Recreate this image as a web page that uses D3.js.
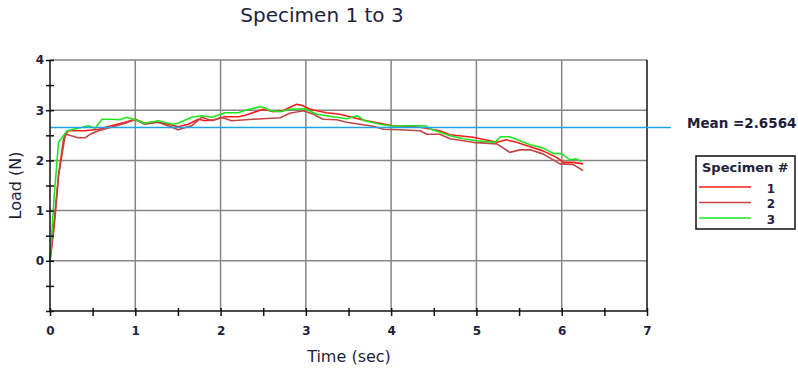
<!DOCTYPE html>
<html>
<head>
<meta charset="utf-8">
<script src="https://cdn.jsdelivr.net/npm/d3@7/dist/d3.min.js"></script>
<style>
	html, body { margin: 0; padding: 0; background: #fff; }
	svg { display: block; font-family: "DejaVu Sans", Verdana, sans-serif; }
</style>
</head>
<body>
<div id="chart"></div>
<script>
// [time (sec), load (N)]
const specimen1 = [
	[0, 0], [0.05, 0.7], [0.1, 1.7], [0.16, 2.43], [0.21, 2.59], [0.41, 2.59],
	[0.57, 2.62], [0.72, 2.69], [0.88, 2.76], [1.0, 2.82], [1.11, 2.74], [1.23, 2.77],
	[1.39, 2.72], [1.5, 2.67], [1.62, 2.72], [1.74, 2.82], [1.82, 2.79], [1.93, 2.81],
	[2.05, 2.87], [2.21, 2.87], [2.29, 2.9], [2.5, 3.02], [2.62, 2.97], [2.73, 2.99],
	[2.89, 3.12], [2.95, 3.1], [3.05, 3.02], [3.24, 2.95], [3.4, 2.92], [3.56, 2.85],
	[3.71, 2.79], [3.87, 2.74], [4.02, 2.69], [4.18, 2.68], [4.34, 2.66], [4.57, 2.59],
	[4.69, 2.51], [4.96, 2.46], [5.16, 2.39], [5.24, 2.36], [5.35, 2.41], [5.47, 2.36],
	[5.63, 2.27], [5.78, 2.19], [5.94, 2.06], [6.02, 1.96], [6.13, 1.96], [6.25, 1.93],
];
const specimen2 = [
	[0, 0], [0.05, 0.8], [0.1, 1.7], [0.18, 2.52], [0.25, 2.49], [0.33, 2.45],
	[0.41, 2.45], [0.47, 2.52], [0.57, 2.59], [0.72, 2.66], [0.88, 2.74], [1.0, 2.81],
	[1.11, 2.72], [1.27, 2.76], [1.43, 2.66], [1.5, 2.61], [1.66, 2.69], [1.78, 2.86],
	[1.9, 2.79], [2.01, 2.86], [2.13, 2.79], [2.38, 2.82], [2.7, 2.85], [2.81, 2.94],
	[2.97, 2.99], [3.09, 2.92], [3.2, 2.82], [3.36, 2.81], [3.48, 2.76], [3.63, 2.72],
	[3.79, 2.68], [3.91, 2.62], [4.1, 2.61], [4.34, 2.59], [4.42, 2.52], [4.57, 2.52],
	[4.69, 2.43], [4.96, 2.36], [5.24, 2.33], [5.39, 2.16], [5.51, 2.21], [5.63, 2.21],
	[5.78, 2.13], [5.98, 1.93], [6.13, 1.92], [6.25, 1.8],
];
const specimen3 = [
	[0, 0], [0.05, 1.3], [0.1, 2.36], [0.2, 2.59], [0.33, 2.64], [0.45, 2.69],
	[0.53, 2.64], [0.61, 2.82], [0.72, 2.82], [0.82, 2.81], [0.9, 2.86], [1.0, 2.81],
	[1.11, 2.74], [1.27, 2.79], [1.43, 2.72], [1.5, 2.74], [1.66, 2.86], [1.78, 2.89],
	[1.9, 2.86], [2.05, 2.95], [2.21, 2.95], [2.29, 3.0], [2.46, 3.07], [2.52, 3.05],
	[2.58, 2.99], [2.7, 2.97], [2.81, 3.02], [2.99, 3.03], [3.13, 2.92], [3.32, 2.87],
	[3.48, 2.83], [3.6, 2.89], [3.69, 2.79], [3.87, 2.72], [4.02, 2.68], [4.18, 2.69],
	[4.4, 2.69], [4.47, 2.62], [4.69, 2.49], [4.85, 2.43], [5.0, 2.39], [5.22, 2.36],
	[5.28, 2.47], [5.39, 2.47], [5.51, 2.39], [5.63, 2.31], [5.78, 2.25], [5.9, 2.14],
	[6.0, 2.13], [6.1, 2.01], [6.17, 2.03], [6.23, 1.98],
];
const specimenLabels = ["1", "2", "3"];
const specimenColors = ["#ff1a1a", "#c04545", "#1ee61e"];
const meanLoad = 2.6564;
const xTickValues = [0, 1, 2, 3, 4, 5, 6, 7];
const yTickValues = [0, 1, 2, 3, 4];

const width = 798;
const height = 369;
const margin = { top: 60, right: 151, bottom: 58, left: 50 };
const textColor = "#1e1e3c";

const series = [specimen1, specimen2, specimen3].map((values, i) => ({
	label: specimenLabels[i],
	color: specimenColors[i],
	values,
}));

const x = d3.scaleLinear().domain([0, 7]).range([margin.left, width - margin.right]);
const y = d3.scaleLinear().domain([-1, 4]).range([height - margin.bottom, margin.top]);

const svg = d3
	.select("#chart")
	.append("svg")
	.attr("width", width)
	.attr("height", height)
	.attr("viewBox", `0 0 ${width} ${height}`);

// grid
svg
	.append("g")
	.selectAll("line")
	.data(xTickValues.filter((v) => v > 0 && v < 7))
	.join("line")
	.attr("x1", (d) => x(d))
	.attr("x2", (d) => x(d))
	.attr("y1", y(4))
	.attr("y2", y(-1))
	.attr("stroke", "#858585")
	.attr("stroke-width", 1.5);

svg
	.append("g")
	.selectAll("line")
	.data(yTickValues)
	.join("line")
	.attr("x1", x(0))
	.attr("x2", x(7))
	.attr("y1", (d) => y(d))
	.attr("y2", (d) => y(d))
	.attr("stroke", "#858585")
	.attr("stroke-width", 1.5);

// right frame edge
svg
	.append("line")
	.attr("x1", x(7))
	.attr("x2", x(7))
	.attr("y1", y(4))
	.attr("y2", y(-1))
	.attr("stroke", "#111")
	.attr("stroke-width", 1.5);

const line = d3
	.line()
	.x((d) => x(d[0]))
	.y((d) => y(d[1]));

svg
	.append("g")
	.selectAll("path")
	.data(series)
	.join("path")
	.attr("fill", "none")
	.attr("stroke", (d) => d.color)
	.attr("stroke-width", 1.6)
	.attr("stroke-linejoin", "round")
	.attr("d", (d) => line(d.values));

// mean line
svg
	.append("line")
	.attr("x1", x(0))
	.attr("x2", x(7) + 24)
	.attr("y1", y(meanLoad))
	.attr("y2", y(meanLoad))
	.attr("stroke", "#1ea3e6")
	.attr("stroke-width", 1.6);

svg
	.append("text")
	.attr("x", 687)
	.attr("y", y(meanLoad) + 0.5)
	.attr("fill", textColor)
	.attr("font-size", 13.5)
	.attr("font-weight", "bold")
	.text(`Mean =${meanLoad}`);

// axes
const xAxis = svg
	.append("g")
	.attr("transform", `translate(0, ${y(-1)})`)
	.call(
		d3
			.axisBottom(x)
			.tickValues(d3.range(0, 7.01, 0.5))
			.tickSize(5)
			.tickPadding(10)
			.tickFormat((d) => (Number.isInteger(d) ? d : "")),
	);
xAxis.select(".domain").attr("stroke", "#111").attr("stroke-width", 1.5).attr("d", `M${x(0)},0H${x(7)}`);
xAxis.selectAll(".tick line").attr("stroke", "#111").attr("stroke-width", 1.5).attr("y1", -3);
xAxis
	.selectAll(".tick text")
	.attr("fill", textColor)
	.attr("font-size", 12)
	.attr("font-weight", "bold")
	.attr("font-family", "DejaVu Sans, sans-serif");

const yAxis = svg
	.append("g")
	.attr("transform", `translate(${x(0)}, 0)`)
	.call(
		d3
			.axisLeft(y)
			.tickValues(d3.range(-1, 4.01, 0.5))
			.tickSize(4)
			.tickPadding(2)
			.tickFormat((d) => (Number.isInteger(d) && d >= 0 ? d : "")),
	);
yAxis.select(".domain").attr("stroke", "#111").attr("stroke-width", 1.5).attr("d", `M0,${y(-1)}V${y(4)}`);
yAxis.selectAll(".tick line").attr("stroke", "#111").attr("stroke-width", 1.5).attr("x2", 4).attr("x1", -4);
yAxis
	.selectAll(".tick text")
	.attr("fill", textColor)
	.attr("font-size", 12)
	.attr("font-weight", "bold")
	.attr("font-family", "DejaVu Sans, sans-serif");

// titles
svg
	.append("text")
	.attr("x", 322)
	.attr("y", 22)
	.attr("text-anchor", "middle")
	.attr("fill", textColor)
	.attr("font-size", 20)
	.text("Specimen 1 to 3");

svg
	.append("text")
	.attr("x", 349)
	.attr("y", 362)
	.attr("text-anchor", "middle")
	.attr("fill", textColor)
	.attr("font-size", 16)
	.text("Time (sec)");

svg
	.append("text")
	.attr("transform", `translate(21, ${y(1.5)}) rotate(-90)`)
	.attr("text-anchor", "middle")
	.attr("fill", textColor)
	.attr("font-size", 16)
	.text("Load (N)");

// legend
const legend = svg.append("g").attr("transform", "translate(696, 156)");
legend
	.append("rect")
	.attr("width", 99)
	.attr("height", 73)
	.attr("fill", "#fff")
	.attr("stroke", "#111")
	.attr("stroke-width", 1.5);
legend
	.append("text")
	.attr("x", 6)
	.attr("y", 16)
	.attr("fill", textColor)
	.attr("font-size", 13)
	.attr("font-weight", "bold")
	.text("Specimen #");
const legendRows = legend
	.selectAll(".row")
	.data(series)
	.join("g")
	.attr("class", "row")
	.attr("transform", (d, i) => `translate(0, ${31 + i * 15.5})`);
legendRows
	.append("line")
	.attr("x1", 3)
	.attr("x2", 55)
	.attr("stroke", (d) => d.color)
	.attr("stroke-width", 1.6);
legendRows
	.append("text")
	.attr("x", 75)
	.attr("y", 5.5)
	.attr("text-anchor", "middle")
	.attr("fill", textColor)
	.attr("font-size", 12)
	.attr("font-weight", "bold")
	.text((d) => d.label);
</script>
</body>
</html>
